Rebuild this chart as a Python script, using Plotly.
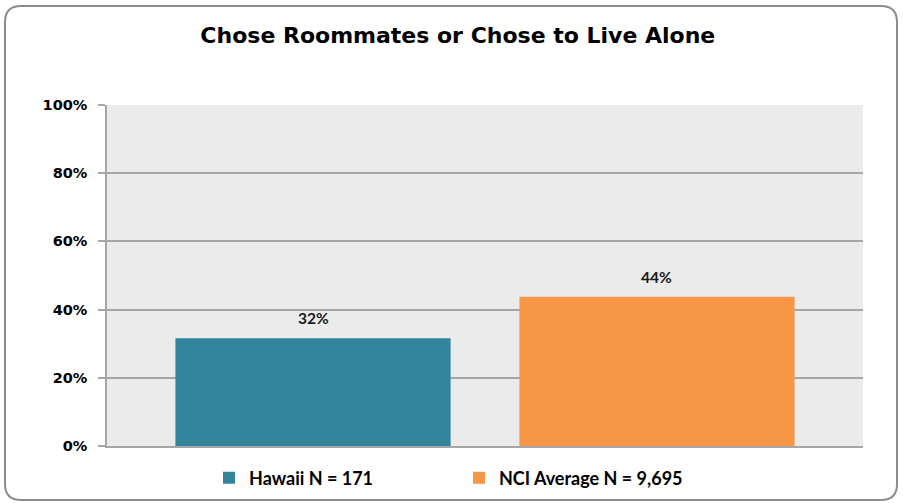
import plotly.graph_objects as go

series_names = ["Hawaii N = 171", "NCI Average N = 9,695"]
series_values = [31.6, 43.8]
series_colors = ["#31849B", "#F79646"]
y_ticks = [0, 20, 40, 60, 80, 100]
y_tick_labels = [f"{v}%" for v in y_ticks]
title_text = "Chose Roommates or Chose to Live Alone"

W, H = 903, 503
L, R, T, B = 107, 40, 105, 57
pw, ph = W - L - R, H - T - B

fig = go.Figure()
for name, val, col in zip(series_names, series_values, series_colors):
    fig.add_trace(go.Bar(
        x=[0], y=[val], name=name,
        marker=dict(color=col, line=dict(width=0)),
        offsetgroup=name,
    ))

# value labels above bars
bar_offsets = [-0.5 * (1 - 0.09) / 2, 0.5 * (1 - 0.09) / 2]
annotations = []
for val, off in zip(series_values, bar_offsets):
    annotations.append(dict(
        x=off, y=val, xref="x", yref="y", text=f"<b>{round(val)}%</b>",
        showarrow=False, yanchor="bottom", yshift=9,
        font=dict(family="Lato", size=15.5, color="#1a1a1a"),
    ))

def P(x, y):
    a, b = (x - L) / pw, (H - B - y) / ph
    return f"{a:.5f},{b:.5f}"

# rounded border
x0, y0, x1, y1, r = 5, 6, 897, 500, 16
path = (f"M {P(x0 + r, y0)} L {P(x1 - r, y0)} Q {P(x1, y0)} {P(x1, y0 + r)} "
        f"L {P(x1, y1 - r)} Q {P(x1, y1)} {P(x1 - r, y1)} "
        f"L {P(x0 + r, y1)} Q {P(x0, y1)} {P(x0, y1 - r)} "
        f"L {P(x0, y0 + r)} Q {P(x0, y0)} {P(x0 + r, y0)} Z")

fig.update_layout(
    width=W, height=H,
    margin=dict(l=L, r=R, t=T, b=B, autoexpand=False),
    paper_bgcolor="white",
    plot_bgcolor="#EBEBEB",
    barmode="group", bargap=0.09, bargroupgap=0.2,
    showlegend=True,
    annotations=annotations,
    title=dict(text=f"<b>{title_text}</b>", x=0.507, xref="container",
               xanchor="center", y=1 - 35 / H, yanchor="middle",
               font=dict(family="DejaVu Sans", size=22, color="#000000")),
    legend=dict(orientation="h", x=(209 - L) / pw, xanchor="left", xref="paper",
                y=-(478 - (H - B)) / ph, yref="paper", yanchor="middle",
                font=dict(family="Lato", size=18, color="#000000", weight="bold"),
                entrywidth=205, traceorder="normal",
                bgcolor="rgba(0,0,0,0)"),
    xaxis=dict(range=[-0.5, 0.5], showticklabels=False, showgrid=False, zeroline=False,
               ticks="", showline=True, linecolor="#A6A6A6", linewidth=2, fixedrange=True),
    yaxis=dict(range=[0, 100], tickvals=y_ticks, ticktext=y_tick_labels,
               showgrid=True, gridcolor="#A6A6A6", gridwidth=1.5,
               zeroline=False, showline=True, linecolor="#A6A6A6", linewidth=1.5,
               ticks="outside", ticklen=7, tickcolor="#A6A6A6", tickwidth=1.5,
               tickfont=dict(family="DejaVu Sans", size=14.5, color="#000000", weight="bold"),
               ticklabelstandoff=8),
    shapes=[dict(type="path", path=path, xref="paper", yref="paper",
                 line=dict(color="#8C8C8C", width=2), fillcolor="rgba(0,0,0,0)", layer="below")],
)

fig.write_html("out.html", config={"displayModeBar": False},
               post_script="document.body.style.margin='0';")
